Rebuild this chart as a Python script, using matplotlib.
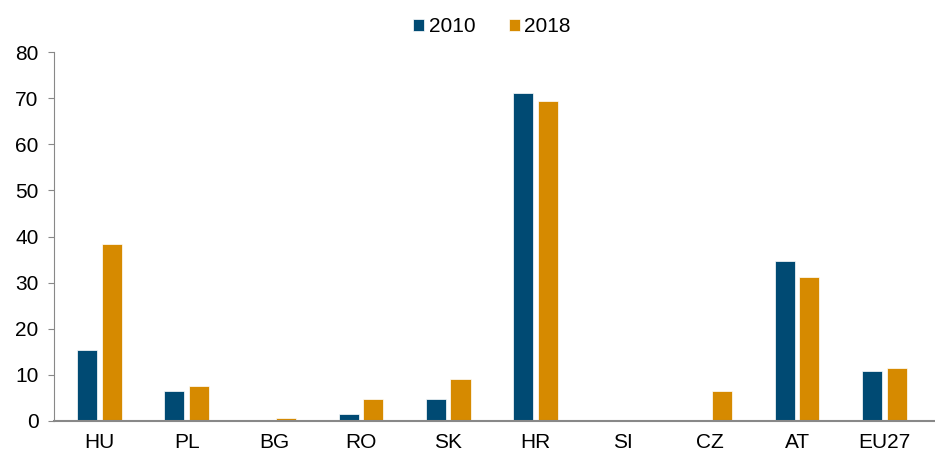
import matplotlib
matplotlib.use("Agg")
import matplotlib.pyplot as plt
import numpy as np

plt.rcParams['font.family'] = ['Liberation Sans', 'DejaVu Sans']

countries = ['HU', 'PL', 'BG', 'RO', 'SK', 'HR', 'SI', 'CZ', 'AT', 'EU27']
v2010 = [15.4, 6.6, 0.0, 1.6, 4.7, 71.2, 0.0, 0.0, 34.7, 10.8]
v2018 = [38.3, 7.5, 0.7, 4.7, 9.0, 69.4, 0.0, 6.4, 31.2, 11.4]

navy = '#004A73'
orange = '#D68A00'

fig = plt.figure(figsize=(9.35, 4.54), dpi=100)
ax = fig.add_axes([54 / 935, (454 - 421) / 454, (935 - 54) / 935, (421 - 52) / 454])

x = np.arange(len(countries))
w = 0.23
ax.bar(x - 0.14, v2010, w, color=navy, edgecolor='white', linewidth=0.5, label='2010')
ax.bar(x + 0.14, v2018, w, color=orange, edgecolor='white', linewidth=0.5, label='2018')

ax.set_xlim(-0.52, len(countries) - 0.42)
ax.set_ylim(0, 80)
ax.set_yticks(range(0, 81, 10))
ax.set_xticks(x)
ax.set_xticklabels(countries)
ax.tick_params(axis='x', length=0, pad=9, labelsize=15)
ax.tick_params(axis='y', length=4, color='#888888', pad=7, labelsize=15)

for s in ['top', 'right']:
    ax.spines[s].set_visible(False)
ax.spines['left'].set_color('#888888')
ax.spines['bottom'].set_color('#888888')
ax.spines['bottom'].set_linewidth(1.5)

ax.legend(loc='upper center', bbox_to_anchor=(0.497, 1.145), ncol=2, frameon=False,
          fontsize=15, handlelength=0.55, handleheight=0.55, handletextpad=0.2,
          columnspacing=1.6)

fig.savefig('out.png', dpi=100)
